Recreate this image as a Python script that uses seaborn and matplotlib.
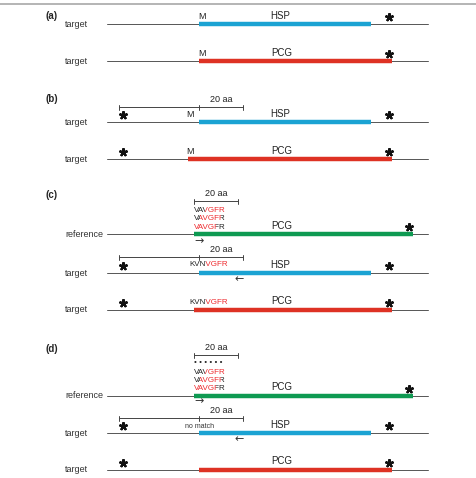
import matplotlib
matplotlib.use("Agg")
import matplotlib.pyplot as plt
import matplotlib.patches as mpatches
import seaborn as sns

sns.set_style("white")
plt.rcParams['font.family'] = ['Liberation Sans', 'DejaVu Sans']

# panel labels
panel_names = ['(a)', '(b)', '(c)', '(d)']
panel_y = [16, 99, 195, 349]

# rows of the diagram (pixel layout of the original figure)
row_names = ['target', 'target', 'target', 'target', 'reference', 'target', 'target',
             'reference', 'target', 'target']
row_y = [24, 61, 122, 159, 234, 273, 310, 396, 433, 470]
row_kind = ['HSP', 'PCG', 'HSP', 'PCG', 'REF', 'HSP', 'PCG', 'REF', 'HSP', 'PCG']
bar_start = [199, 199, 199, 188, 194, 199, 194, 194, 199, 199]
bar_end = [371, 392, 371, 392, 413, 371, 392, 413, 371, 392]
stars = [[389], [389], [123, 389], [123, 389], [409], [123, 389], [123, 389],
         [409], [123, 389], [123, 389]]
start_M = [202, 202, 190, 190, None, None, None, None, None, None]

colors = {'HSP': '#1ba3d3', 'PCG': '#de3224', 'REF': '#0e9a52'}
bar_text = {'HSP': 'HSP', 'PCG': 'PCG', 'REF': 'PCG'}
seq_red = '#ee2a2e'

# scale bars "20 aa": (y, ticks)
scale_y = [107, 201, 257, 355, 418]
scale_ticks = [[119, 199, 243], [194, 238], [119, 199, 243], [194, 238], [119, 199, 243]]

# reference sequence alignments: full string and red span (start, end)
ref_seqs = ['VAVGFR', 'VAVGFR', 'VAVGFR']
ref_red = [(2, 6), (1, 5), (0, 4)]
ref_seq_y = [[211, 219, 227], [372, 380, 388]]
target_seq = 'KVNVGFR'
target_red = (3, 7)
target_seq_y = [265, 302]

fig = plt.figure(figsize=(4.77, 4.78), dpi=100)
ax = fig.add_axes([0, 0, 1, 1])
ax.set_xlim(0, 477)
ax.set_ylim(478, 0)
ax.axis('off')
renderer = fig.canvas.get_renderer()

ax.plot([0, 477], [4, 4], color='#a8a8a8', lw=1.2)

for name, y in zip(panel_names, panel_y):
    ax.text(46, y, name, fontsize=7, fontweight='bold', va='center', ha='left')

for i, y in enumerate(row_y):
    ax.text(65, y, row_names[i], fontsize=6.5, va='center', ha='left', color='#333333')
    ax.plot([107, 428], [y, y], color='#555555', lw=0.7, zorder=1)
    c = colors[row_kind[i]]
    ax.plot([bar_start[i], bar_end[i]], [y, y], color=c, lw=3.2,
            solid_capstyle='butt', zorder=2)
    ax.text(282 if row_kind[i] != 'HSP' else 280, y - 3.5, bar_text[row_kind[i]],
            fontsize=7, va='bottom', ha='center', color='#222222')
    ax.plot(stars[i], [y - 7] * len(stars[i]), linestyle='none', marker=(5, 2, 0),
            markersize=6, markeredgewidth=1.6, color='#111111')
    if start_M[i] is not None:
        ax.text(start_M[i], y - 3, 'M', fontsize=6.5, va='bottom', ha='center', color='#222222')

for y, ticks in zip(scale_y, scale_ticks):
    ax.plot([ticks[0], ticks[-1]], [y, y], color='#444444', lw=0.7)
    for t in ticks:
        ax.plot([t, t], [y - 2.5, y + 2.5], color='#444444', lw=0.7)
    mid = (ticks[-2] + ticks[-1]) / 2 if len(ticks) == 3 else (ticks[0] + ticks[1]) / 2
    ax.text(mid, y - 3, '20 aa', fontsize=6.5, va='bottom', ha='center', color='#222222')


def text_width(s, size):
    if not s:
        return 0.0
    t = ax.text(0, 0, s, fontsize=size)
    w = t.get_window_extent(renderer).width
    t.remove()
    return w


def seq_text(x, y, s, red, size=5.8):
    # string drawn in black / red pieces, each clipped to its residues
    full = text_width(s, size)
    xa = x + (text_width(s[:red[0]], size) + 0.6 if red[0] > 0 else -3)
    xb = x + (text_width(s[:red[1]], size) + 0.6 if red[1] < len(s) else full + 3)
    spans = [(x - 3, xa, '#222222'), (xa, xb, seq_red), (xb, x + full + 3, '#222222')]
    for x0, x1, col in spans:
        if x1 <= x0:
            continue
        t = ax.text(x, y, s, fontsize=size, va='center', ha='left', color=col)
        clip = mpatches.Rectangle((x0, y - 8), x1 - x0, 16, transform=ax.transData,
                                  facecolor='none', edgecolor='none')
        t.set_clip_path(clip)
        t.set_clip_on(True)


for ys in ref_seq_y:
    for s, red, y in zip(ref_seqs, ref_red, ys):
        seq_text(194, y, s, red)
for y in target_seq_y:
    seq_text(189, y, target_seq, target_red)

# dots above the alignment in (d)
ax.text(194, 363, '• • • • • •', fontsize=5.8, va='center', ha='left')
ax.text(200, 427, 'no match', fontsize=5, va='center', ha='center', color='#333333')

# direction arrows
for x, y, a in [(194, 241, '→'), (194, 401, '→'), (235, 279, '←'), (235, 439, '←')]:
    ax.text(x, y, a, fontsize=8, va='center', ha='left', color='#333333',
            family=['DejaVu Sans'])

fig.savefig('out.png', dpi=100)
